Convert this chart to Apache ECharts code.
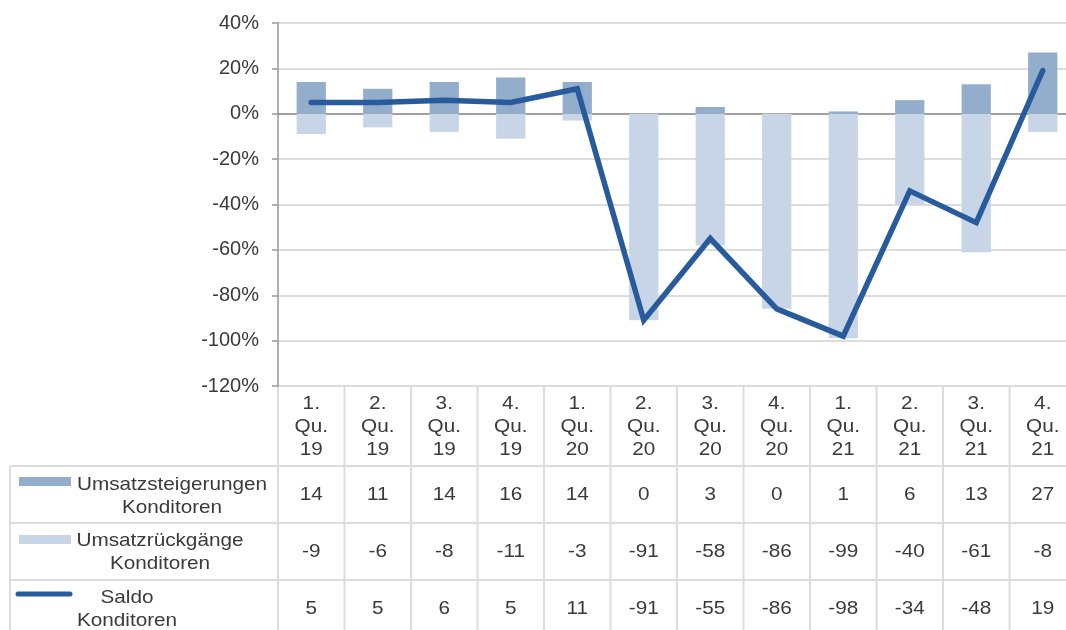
<!DOCTYPE html>
<html>
<head>
<meta charset="utf-8">
<script src="https://cdn.jsdelivr.net/npm/echarts@6/dist/echarts.min.js"></script>
<style>
  html, body { margin: 0; padding: 0; background: #fff; }
  #chart { width: 1066px; height: 630px; }
</style>
</head>
<body>
<div id="chart"></div>
<script>
// quarters shown in the header row of the table
const quarters = ["1.\nQu.\n19", "2.\nQu.\n19", "3.\nQu.\n19", "4.\nQu.\n19",
  "1.\nQu.\n20", "2.\nQu.\n20", "3.\nQu.\n20", "4.\nQu.\n20",
  "1.\nQu.\n21", "2.\nQu.\n21", "3.\nQu.\n21", "4.\nQu.\n21"];

// values in percent
const steigerungen = [14, 11, 14, 16, 14, 0, 3, 0, 1, 6, 13, 27];
const rueckgaenge = [-9, -6, -8, -11, -3, -91, -58, -86, -99, -40, -61, -8];
const saldo = [5, 5, 6, 5, 11, -91, -55, -86, -98, -34, -48, 19];

const seriesNames = ["Umsatzsteigerungen\nKonditoren", "Umsatzrückgänge\nKonditoren", "Saldo\nKonditoren"];

const yMin = -120, yMax = 40, yStep = 20;

const colors = {
  up: "#93adcc",
  down: "#c8d5e6",
  line: "#285b9c",
  grid: "#dcdcdc",
  axis: "#999999",
  text: "#3a3a3a",
};
const font = "Liberation Sans, Arial, sans-serif";

const chart = echarts.init(document.getElementById("chart"), null, { renderer: "canvas" });

const option = {
  animation: false,
  backgroundColor: "#fff",
  textStyle: { fontFamily: font },
  // plot runs past the right edge of the picture, like the original
  grid: { left: 278, top: 23, width: 798, height: 363, containLabel: false, outerBoundsMode: "none" },
  xAxis: {
    type: "category",
    data: quarters,
    axisLine: { onZero: true, lineStyle: { color: "#8c8c8c", width: 1.5 } },
    axisTick: { show: false },
    axisLabel: { show: false },
    splitLine: { show: false },
  },
  yAxis: {
    type: "value",
    min: yMin,
    max: yMax,
    interval: yStep,
    axisLine: { show: true, lineStyle: { color: colors.axis, width: 1.5 } },
    axisTick: { show: true, length: 6, lineStyle: { color: colors.axis, width: 1.5 } },
    axisLabel: { formatter: "{value}%", fontSize: 20, color: colors.text, margin: 19, fontFamily: font },
    splitLine: { show: true, lineStyle: { color: colors.grid, width: 2 } },
  },
  series: [
    {
      name: "Umsatzrückgänge",
      type: "bar",
      data: rueckgaenge,
      barWidth: "44%",
      barGap: "-100%",
      itemStyle: { color: colors.down },
    },
    {
      name: "Umsatzsteigerungen",
      type: "bar",
      data: steigerungen,
      barWidth: "44%",
      barGap: "-100%",
      itemStyle: { color: colors.up },
    },
    {
      name: "Saldo",
      type: "line",
      data: saldo,
      symbol: "none",
      z: 5,
      lineStyle: { color: colors.line, width: 5.5, cap: "round", join: "miter" },
    },
  ],
};

chart.setOption(option);

// table below the plot, laid out on the category axis
const centers = quarters.map((q, i) => chart.convertToPixel({ xAxisIndex: 0 }, i));
const band = centers[1] - centers[0];
const xLeft = centers[0] - band / 2;
const xRight = centers[centers.length - 1] + band / 2;
const yTop = chart.convertToPixel({ yAxisIndex: 0 }, yMin);
const rowLines = [466, 523, 580];
const rowMid = [495, 552, 609];
const tableBottom = 640;

const lineStyle = { stroke: colors.grid, lineWidth: 2 };
const graphics = [];

// horizontal lines
graphics.push({ type: "line", shape: { x1: xLeft, y1: yTop, x2: xRight, y2: yTop }, style: lineStyle });
rowLines.forEach((y) => {
  graphics.push({ type: "line", shape: { x1: 10, y1: y, x2: xRight, y2: y }, style: lineStyle });
});
// vertical lines
graphics.push({ type: "line", shape: { x1: 10, y1: rowLines[0], x2: 10, y2: tableBottom }, style: lineStyle });
for (let i = 0; i <= quarters.length; i++) {
  const x = xLeft + i * band;
  graphics.push({ type: "line", shape: { x1: x, y1: yTop, x2: x, y2: tableBottom }, style: lineStyle });
}

// the original text is a bit wide for its height, so stretch it slightly
const cellText = (x, y, text) => ({
  type: "text",
  x: x,
  y: y,
  scaleX: 1.12,
  style: {
    text: String(text),
    fill: colors.text,
    font: "18.5px " + font,
    align: "center",
    verticalAlign: "middle",
    lineHeight: 23,
  },
});

// header row
quarters.forEach((q, i) => graphics.push(cellText(centers[i], 427, q)));
// value rows
[steigerungen, rueckgaenge, saldo].forEach((arr, r) => {
  arr.forEach((v, i) => graphics.push(cellText(centers[i], rowMid[r], v)));
});

// legend keys in the first column
graphics.push({ type: "rect", shape: { x: 19, y: 477, width: 52, height: 9 }, style: { fill: colors.up } });
graphics.push({ type: "rect", shape: { x: 19, y: 535, width: 52, height: 9 }, style: { fill: colors.down } });
graphics.push({
  type: "line",
  shape: { x1: 18, y1: 594, x2: 70, y2: 594 },
  style: { stroke: colors.line, lineWidth: 5, lineCap: "round" },
});
graphics.push(cellText(172, 496, seriesNames[0]));
graphics.push(cellText(160, 552, seriesNames[1]));
graphics.push(cellText(127, 609, seriesNames[2]));

chart.setOption({ graphic: graphics });

window.addEventListener("resize", () => chart.resize());
</script>
</body>
</html>
